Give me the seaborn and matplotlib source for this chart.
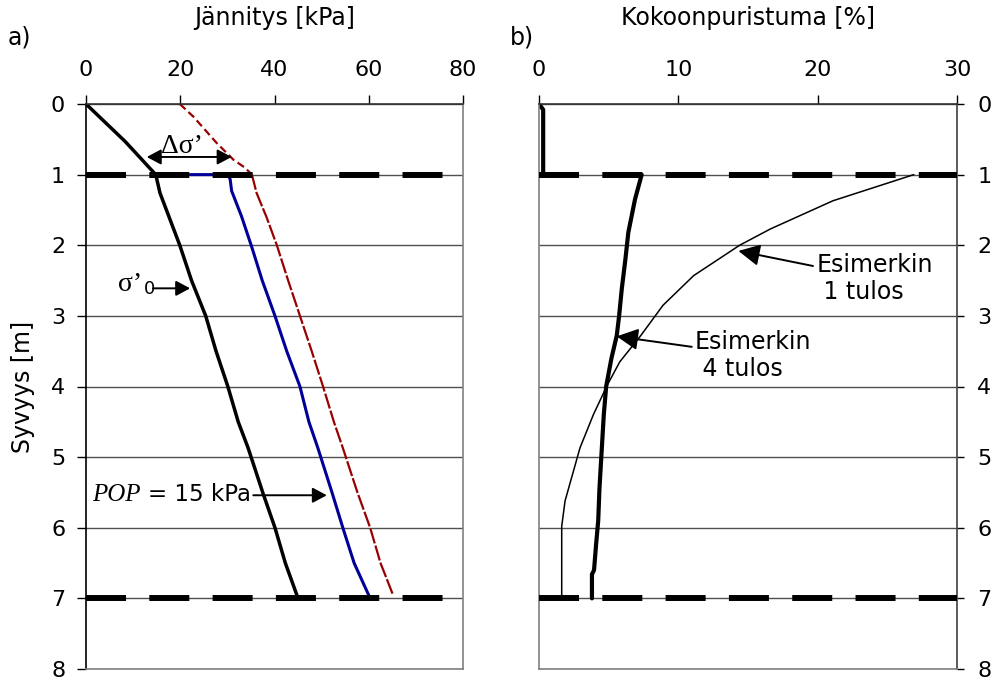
import matplotlib
matplotlib.use("Agg")
import matplotlib.pyplot as plt
import seaborn as sns

# --- a) stress profiles [kPa] vs depth [m] ---
sig0_depth = [0, 0.53, 1.0, 1.26, 1.63, 2.0, 2.5, 3.0, 3.5, 4.0, 4.5, 4.87, 5.5, 6.0, 6.5, 7.0]
sig0_kpa = [0, 8.3, 14.8, 15.7, 17.8, 19.9, 22.4, 25.4, 27.6, 30.1, 32.3, 34.4, 37.5, 40.1, 42.3, 45.0]

pop_depth = [1.0, 1.0, 1.07, 1.23, 1.59, 2.03, 2.5, 3.0, 3.5, 4.0, 4.5, 4.87, 5.5, 6.0, 6.5, 7.0]
pop_kpa = [22.1, 30.2, 30.6, 30.9, 33.0, 35.2, 37.4, 40.1, 42.6, 45.4, 47.3, 49.2, 52.2, 54.5, 56.9, 60.3]

load_top_depth = [0, 0.18, 0.55, 0.79, 0.9, 1.0]
load_top_kpa = [19.9, 22.8, 27.7, 31.3, 33.7, 35.2]
load_depth = [1.0, 1.26, 1.6, 2.0, 2.5, 3.0, 3.5, 4.0, 4.5, 4.87, 5.5, 6.0, 6.5, 6.96]
load_kpa = [35.2, 36.2, 38.3, 40.5, 42.9, 45.4, 47.9, 50.3, 52.6, 54.5, 57.6, 60.3, 62.5, 65.2]

# --- b) compression [%] vs depth [m] ---
ex4_crust_depth = [0, 0.08, 1.0]
ex4_crust_pct = [0, 0.3, 0.3]
ex4_depth = [1.0, 1.35, 1.82, 2.2, 2.62, 3.0, 3.28, 3.6, 4.0, 4.4, 4.87, 5.44, 5.9, 6.23, 6.6, 6.66, 7.0]
ex4_pct = [7.37, 6.89, 6.41, 6.2, 5.94, 5.75, 5.58, 5.2, 4.82, 4.65, 4.51, 4.34, 4.25, 4.1, 3.95, 3.8, 3.8]

ex1_depth = [1.0, 1.37, 1.77, 2.0, 2.43, 2.85, 3.28, 3.65, 3.98, 4.4, 4.87, 5.62, 5.98, 7.0]
ex1_pct = [26.9, 21.1, 16.6, 14.4, 11.1, 8.9, 7.3, 5.8, 4.9, 3.9, 2.94, 1.87, 1.63, 1.63]

layer_bounds = [1, 7]
depth_ticks = [0, 1, 2, 3, 4, 5, 6, 7, 8]
stress_ticks = [0, 20, 40, 60, 80]
comp_ticks = [0, 10, 20, 30]

sns.set_theme(style="ticks")
plt.rcParams["font.family"] = ["DejaVu Sans"]
plt.rcParams["font.size"] = 16
for key in ("text.color", "axes.labelcolor", "xtick.color", "ytick.color"):
    plt.rcParams[key] = "black"

fig = plt.figure(figsize=(9.93, 6.82), dpi=100)
ax_bottom = 1 - 669 / 682
ax_height = (669 - 104) / 682
axL = fig.add_axes([86 / 993, ax_bottom, 377 / 993, ax_height])
axR = fig.add_axes([539 / 993, ax_bottom, 418 / 993, ax_height])

serif = ["Liberation Serif", "DejaVu Serif"]
small_arrow = dict(arrowstyle="-|>,head_length=0.43,head_width=0.23", color="black",
                   lw=1.4, mutation_scale=20, shrinkA=0, shrinkB=0)
big_arrow = dict(arrowstyle="-|>,head_length=0.65,head_width=0.33", color="black",
                 lw=1.4, mutation_scale=20, shrinkA=0, shrinkB=0)

# ---------- panel a ----------
sns.lineplot(x=sig0_kpa, y=sig0_depth, sort=False, estimator=None, ax=axL,
             color="black", lw=2.5)
sns.lineplot(x=pop_kpa, y=pop_depth, sort=False, estimator=None, ax=axL,
             color="#000099", lw=2.2)
sns.lineplot(x=load_top_kpa, y=load_top_depth, sort=False, estimator=None, ax=axL,
             color="#990000", lw=1.6, linestyle=(0, (3.5, 1.8)))
sns.lineplot(x=load_kpa, y=load_depth, sort=False, estimator=None, ax=axL,
             color="#990000", lw=1.6, linestyle=(0, (7, 1)))

axL.set_xlim(0, 80)
axL.set_xticks(stress_ticks)
axL.annotate("", xy=(12.9, 0.75), xytext=(30.9, 0.75),
             arrowprops=dict(arrowstyle="<|-|>,head_length=0.43,head_width=0.23",
                             color="black", lw=1.4, mutation_scale=20,
                             shrinkA=0, shrinkB=0))
axL.text(20.4, 0.69, "Δσ’", family=serif, fontsize=20, ha="center", va="baseline")
axL.text(6.8, 2.65, "σ’", family=serif, fontsize=20, ha="left", va="baseline")
axL.text(12.2, 2.69, "0", fontsize=13, ha="left", va="baseline")
axL.annotate("", xy=(22.1, 2.61), xytext=(14.2, 2.61), arrowprops=small_arrow)
axL.text(11.5, 5.62, "POP", family=serif, style="italic", fontsize=18,
         ha="right", va="baseline")
axL.text(13.2, 5.62, "= 15 kPa", fontsize=16.5, ha="left", va="baseline")
axL.annotate("", xy=(51.1, 5.54), xytext=(35.5, 5.54), arrowprops=small_arrow)

axL.set_xlabel("Jännitys [kPa]", fontsize=17)
axL.set_ylabel("Syvyys [m]", fontsize=17)
axL.yaxis.set_label_coords(-51 / 377, 0.5)
axL.tick_params(axis="y", left=True, right=False, labelleft=True, labelright=False,
                direction="out", length=6.5, width=1, pad=8.5)
axL.spines["left"].set_color("black")
axL.spines["right"].set_color("#808080")

# ---------- panel b ----------
sns.lineplot(x=ex4_crust_pct, y=ex4_crust_depth, sort=False, estimator=None, ax=axR,
             color="black", lw=3)
sns.lineplot(x=ex4_pct, y=ex4_depth, sort=False, estimator=None, ax=axR,
             color="black", lw=3)
sns.lineplot(x=ex1_pct, y=ex1_depth, sort=False, estimator=None, ax=axR,
             color="black", lw=1.1)

axR.set_xlim(0, 30)
axR.set_xticks(comp_ticks)
axR.annotate("Esimerkin\n 1 tulos", xy=(14.31, 2.08), xytext=(19.9, 2.47),
             ha="left", va="center", fontsize=17, linespacing=1.2, arrowprops=big_arrow)
axR.annotate("Esimerkin\n 4 tulos", xy=(5.58, 3.29), xytext=(11.2, 3.56),
             ha="left", va="center", fontsize=17, linespacing=1.2, arrowprops=big_arrow)
axR.set_xlabel("Kokoonpuristuma [%]", fontsize=17)
axR.set_ylabel("")
axR.tick_params(axis="y", left=False, right=True, labelleft=False, labelright=True,
                direction="out", length=5, width=1, pad=9.5)
axR.spines["left"].set_color("#808080")
axR.spines["right"].set_color("#404040")

# ---------- shared styling ----------
for ax in (axL, axR):
    for d in layer_bounds:
        ax.axhline(d, color="black", lw=4.3, linestyle=(0, (6.7, 3.9)), zorder=5)
    ax.set_ylim(8, 0)
    ax.set_yticks(depth_ticks)
    ax.yaxis.grid(True, color="#505050", lw=1)
    ax.xaxis.grid(False)
    ax.xaxis.set_label_position("top")
    ax.xaxis.tick_top()
    ax.xaxis.set_label_coords(0.5, 1 + 86 / 565)
    ax.xaxis.label.set_va("center")
    ax.tick_params(axis="x", top=True, bottom=False, labeltop=True, labelbottom=False,
                   direction="out", length=6.5, width=1, pad=11)
    ax.tick_params(labelsize=16)
    ax.spines["top"].set_color("#303030")
    ax.spines["bottom"].set_color("#808080")
    for s in ax.spines.values():
        s.set_linewidth(1.2)
    ax.set_facecolor("white")

fig.text(8 / 993, 1 - 38 / 682, "a)", fontsize=17, ha="left", va="center")
fig.text(510 / 993, 1 - 38 / 682, "b)", fontsize=17, ha="left", va="center")

fig.savefig("out.png", dpi=100, facecolor="white")
